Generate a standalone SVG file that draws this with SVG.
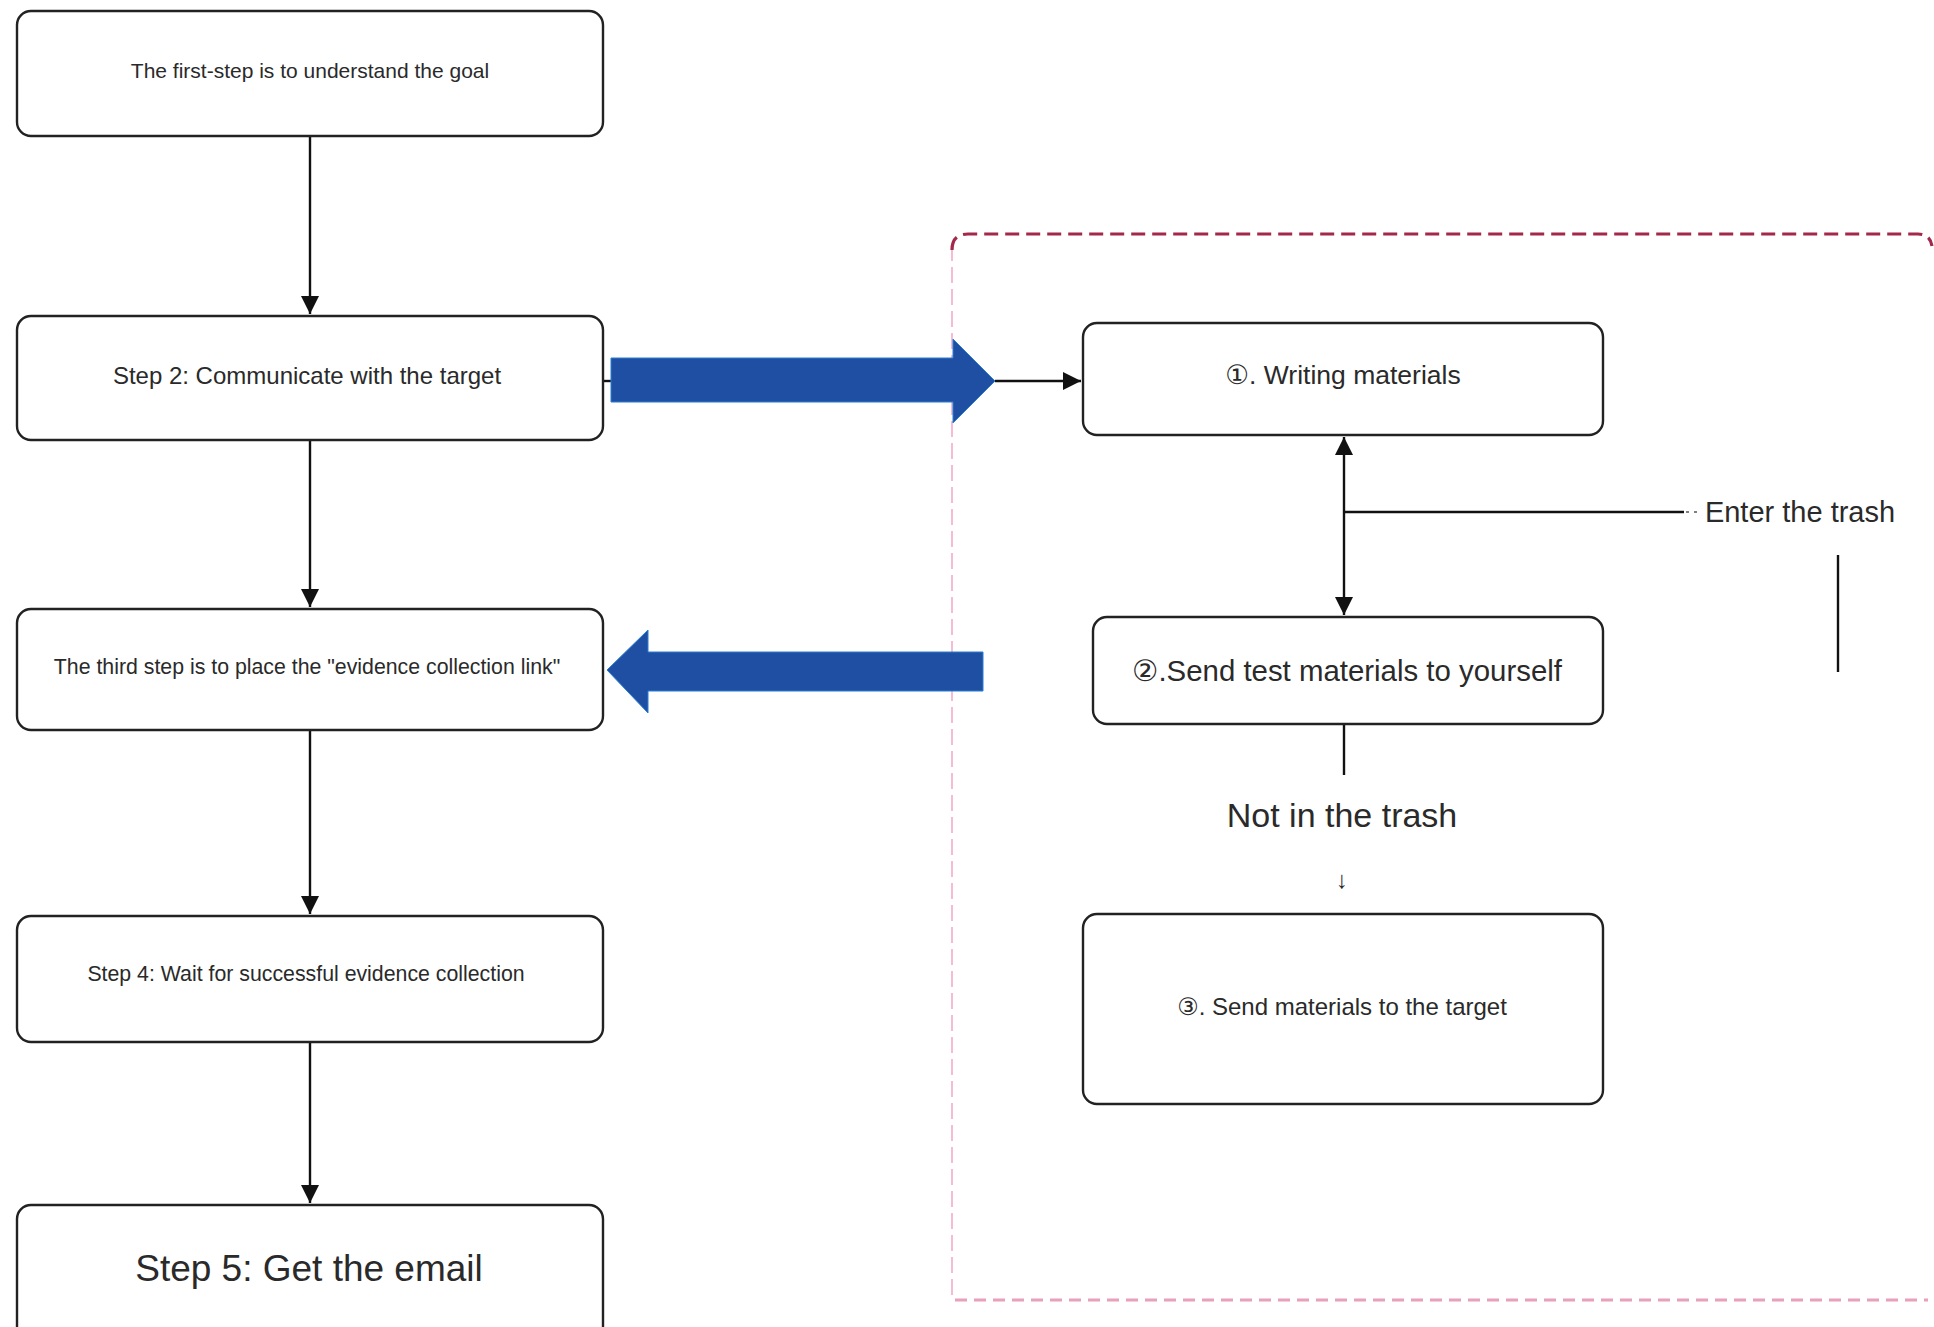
<svg xmlns="http://www.w3.org/2000/svg" width="1934" height="1327" viewBox="0 0 1934 1327">
<style>
.box{fill:#fff;stroke:#222;stroke-width:2.4}
.t{font-family:"Liberation Sans",Arial,"DejaVu Sans","Noto Sans CJK SC",sans-serif;fill:#2a2a2a;text-anchor:middle;dominant-baseline:central}
.c{stroke:#111;stroke-width:2.4;fill:none}
.blue{fill:#1f4fa3;stroke:#2a7fd0;stroke-width:1}
</style>
<defs>
<marker id="ahL" viewBox="0 0 10 10" refX="10" refY="5" markerWidth="22" markerHeight="18" markerUnits="userSpaceOnUse" orient="auto-start-reverse">
<path d="M0,0 L10,5 L0,10 z" fill="#111"/>
</marker>
</defs>
<rect width="1934" height="1327" fill="#fff"/>

<g id="group-frame">
<path d="M952,1295 L952,250" fill="none" stroke="#f4a6c6" stroke-width="1.5" stroke-dasharray="16 6"/>
<path d="M955,1300 L1928,1300" fill="none" stroke="#e8a0bc" stroke-width="3" stroke-dasharray="12 7"/>
<path d="M952,250 Q952,234 968,234 L1918,234 Q1930,234 1932,246" fill="none" stroke="#a3284a" stroke-width="3.2" stroke-dasharray="14 7"/>
</g>

<g id="connectors">
<line class="c" x1="310" y1="136" x2="310" y2="314" marker-end="url(#ahL)"/>
<line class="c" x1="310" y1="440" x2="310" y2="607" marker-end="url(#ahL)"/>
<line class="c" x1="310" y1="730" x2="310" y2="914" marker-end="url(#ahL)"/>
<line class="c" x1="310" y1="1042" x2="310" y2="1203" marker-end="url(#ahL)"/>
<line class="c" x1="586" y1="381" x2="615" y2="381"/>
<polygon class="blue" points="611,358 953,358 953,339 995,381 953,423 953,402 611,402"/>
<line class="c" x1="995" y1="381" x2="1081" y2="381" marker-end="url(#ahL)"/>
<polygon class="blue" points="983,652 648,652 648,630 607,670 648,713 648,691 983,691"/>
<line class="c" x1="1344" y1="437" x2="1344" y2="615" marker-start="url(#ahL)" marker-end="url(#ahL)"/>
<line class="c" x1="1344" y1="512" x2="1684" y2="512"/>
<line x1="1686" y1="512" x2="1700" y2="512" stroke="#555" stroke-width="1.5" stroke-dasharray="3 5"/>
<line class="c" x1="1838" y1="555" x2="1838" y2="672"/>
<line class="c" x1="1344" y1="724" x2="1344" y2="775"/>
</g>

<g id="node-1">
<rect class="box" x="17" y="11" width="586" height="125" rx="14"/>
<text class="t" x="310" y="70" font-size="21">The first-step is to understand the goal</text>
</g>
<g id="node-2">
<rect class="box" x="17" y="316" width="586" height="124" rx="14"/>
<text class="t" x="307" y="375" font-size="24">Step 2: Communicate with the target</text>
</g>
<g id="node-3">
<rect class="box" x="17" y="609" width="586" height="121" rx="14"/>
<text class="t" x="307" y="667" font-size="21.3">The third step is to place the "evidence collection link"</text>
</g>
<g id="node-4">
<rect class="box" x="17" y="916" width="586" height="126" rx="14"/>
<text class="t" x="306" y="974" font-size="21.3">Step 4: Wait for successful evidence collection</text>
</g>
<g id="node-5">
<rect class="box" x="17" y="1205" width="586" height="135" rx="14"/>
<text class="t" x="309" y="1268" font-size="37">Step 5: Get the email</text>
</g>
<g id="node-a">
<rect class="box" x="1083" y="323" width="520" height="112" rx="14"/>
<text class="t" x="1343" y="375" font-size="26.5">①. Writing materials</text>
</g>
<g id="node-b">
<rect class="box" x="1093" y="617" width="510" height="107" rx="14"/>
<text class="t" x="1347" y="670" font-size="29.4">②.Send test materials to yourself</text>
</g>
<g id="node-c">
<rect class="box" x="1083" y="914" width="520" height="190" rx="14"/>
<text class="t" x="1342" y="1006" font-size="24">③. Send materials to the target</text>
</g>
<g id="label-enter">
<text class="t" x="1800" y="512" font-size="29">Enter the trash</text>
</g>
<g id="label-not">
<text class="t" x="1342" y="815" font-size="34">Not in the trash</text>
<text class="t" x="1342" y="879" font-size="24">↓</text>
</g>
</svg>
